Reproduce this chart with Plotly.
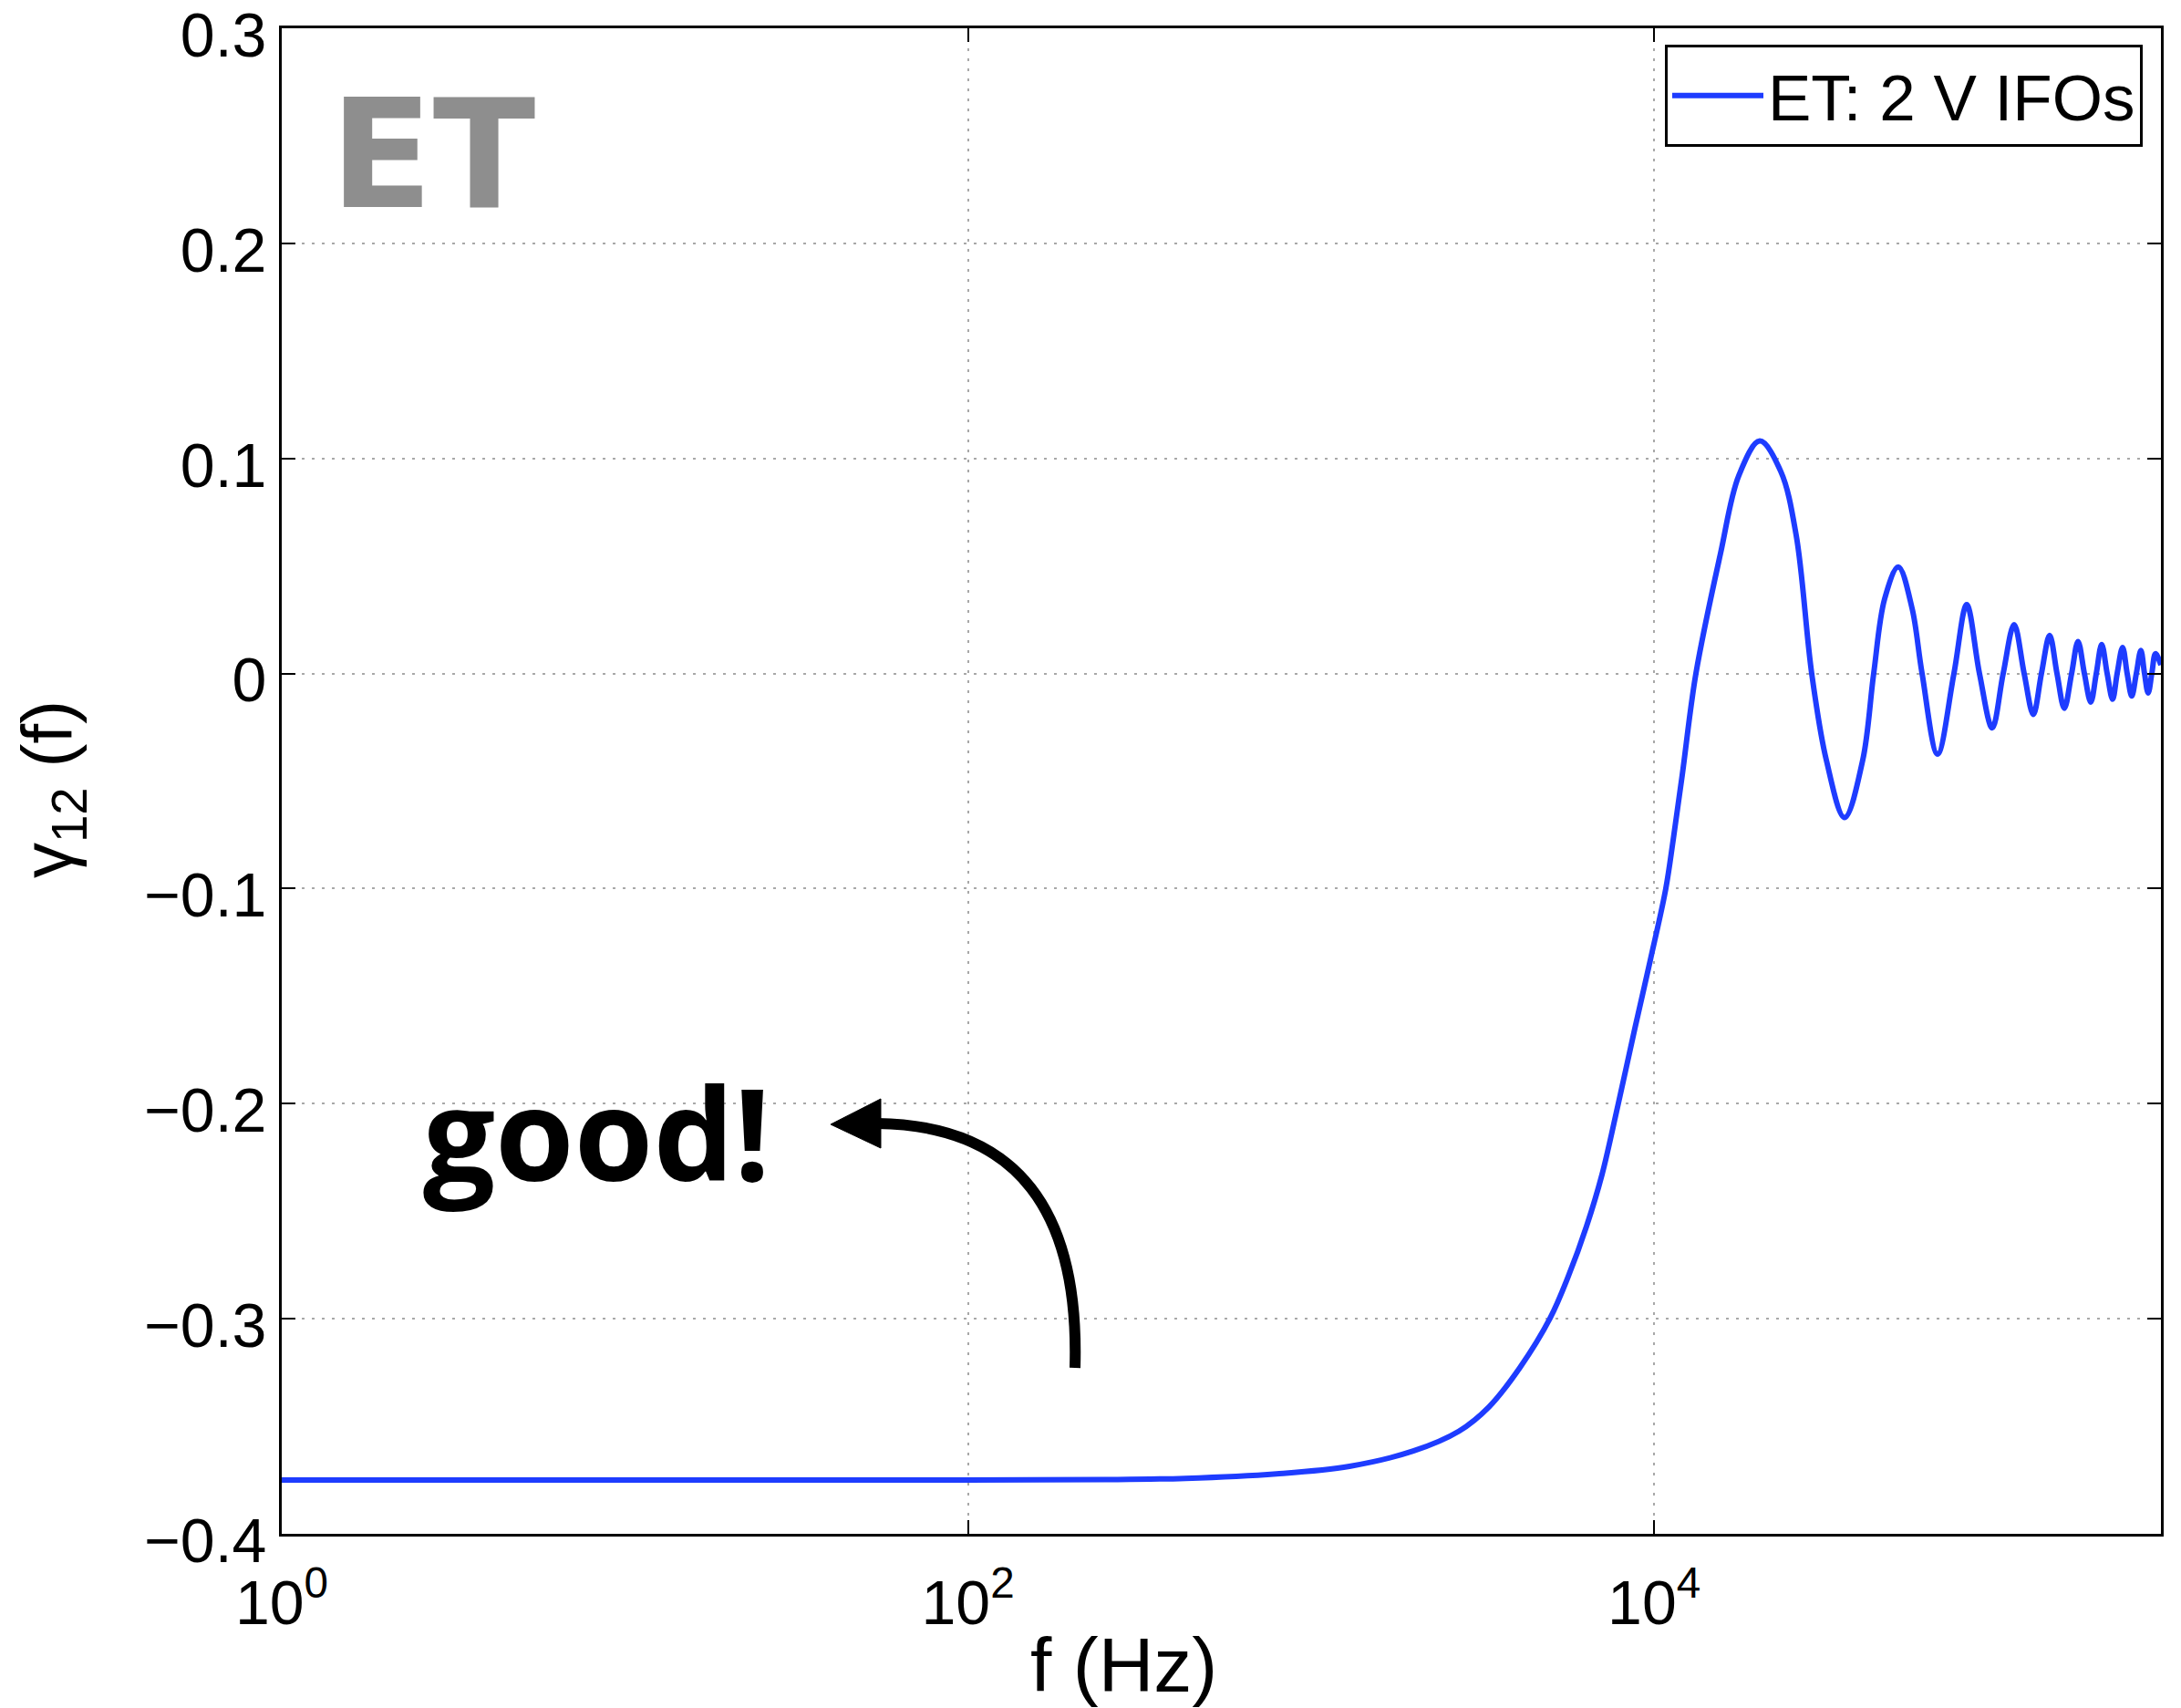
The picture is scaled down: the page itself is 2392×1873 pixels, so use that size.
import plotly.graph_objects as go

# ---------------- data ----------------
freq_hz = [1, 10, 100, 251, 430, 793, 1294, 1986, 2697, 3300, 4062, 4972, 5620,
           6352, 7047, 7866, 8786, 9745, 10814, 11360, 12075, 13237, 15612, 17647,
           20312, 23385, 25942, 28789, 31755, 35886, 40552, 43640, 46963, 51487,
           56442, 60378, 66986, 74778, 81470, 88760, 96690, 104060, 111990, 119790,
           127350, 134530, 142130, 149340, 156830, 164720, 171940, 179480, 187330,
           194360, 201550, 209090, 216860, 223600, 231930, 239130, 246590, 254280,
           262190, 268690, 275330, 282160, 289140, 300000]
gamma_12 = [-0.375, -0.375, -0.375, -0.3748, -0.3742, -0.3721, -0.3686, -0.3615,
            -0.3523, -0.3410, -0.3227, -0.2998, -0.2803, -0.2570, -0.2330, -0.1998,
            -0.1650, -0.1333, -0.1000, -0.0775, -0.0472, 0.0, 0.0558, 0.0920, 0.1081,
            0.0940, 0.0643, 0.0, -0.0402, -0.0670, -0.0402, 0.0, 0.0347, 0.0495,
            0.0304, 0.0, -0.0375, 0.0, 0.0320, 0.0, -0.0253, 0.0, 0.0227, 0.0,
            -0.0190, 0.0, 0.0177, 0.0, -0.0162, 0.0, 0.0149, 0.0, -0.0133, 0.0,
            0.0135, 0.0, -0.0120, 0.0, 0.0121, 0.0, -0.0105, 0.0, 0.0107, 0.0,
            -0.0091, 0.0, 0.0092, 0.004]

series_name = "ET: 2 V IFOs"
x_tick_vals = [1, 100, 10000]
x_tick_text = ["10<sup>0</sup>", "10<sup>2</sup>", "10<sup>4</sup>"]
y_tick_vals = [-0.4, -0.3, -0.2, -0.1, 0.0, 0.1, 0.2, 0.3]
y_tick_text = ["\u22120.4", "\u22120.3", "\u22120.2", "\u22120.1", "0", "0.1", "0.2", "0.3"]
x_title = "f (Hz)"
y_title = "\u03b3<sub>12</sub> (f)"
label_et = "ET"
label_good = "good!"

# ---------------- layout geometry (pixels) ----------------
W, H = 2392, 1873
L, R, T, B = 309, 2370, 31, 1682


def px(x):
    return (x - L) / (R - L)


def py(y):
    return (B - y) / (B - T)


AX_FONT = "Liberation Sans, Arial, Helvetica, sans-serif"
DECO_FONT = "Open Sans, Noto Sans, sans-serif"

fig = go.Figure()
fig.add_trace(go.Scatter(
    x=freq_hz, y=gamma_12, mode="lines", name=series_name,
    line=dict(color="rgb(30,60,255)", width=6, shape="spline", smoothing=1.0),
    showlegend=True,
))

axis_common = dict(
    showline=True, linecolor="black", linewidth=3, mirror="ticks",
    ticks="inside", ticklen=15, tickwidth=2, tickcolor="black",
    showgrid=True, gridcolor="#a8a8a8", gridwidth=2, griddash="3px,8px",
    zeroline=False, ticklabeloverflow="allow", automargin=False,
    tickfont=dict(family=AX_FONT, size=68, color="black"),
)

fig.update_xaxes(type="log", range=[0, 5.4771], tickvals=x_tick_vals,
                 ticktext=x_tick_text, ticklabelstandoff=14, **axis_common)
fig.update_yaxes(range=[-0.4, 0.3], tickvals=y_tick_vals, ticktext=y_tick_text,
                 ticklabelstandoff=0, ticklabelshift=7, **axis_common)

annotations = [
    dict(text=x_title, x=px(1232), y=py(1826), xref="paper", yref="paper",
         xanchor="center", yanchor="middle", showarrow=False,
         font=dict(family=AX_FONT, size=84, color="black")),
    dict(text=y_title, x=px(57), y=py(866), xref="paper", yref="paper",
         xanchor="center", yanchor="middle", showarrow=False, textangle=-90,
         font=dict(family=AX_FONT, size=78, color="black")),
    dict(text="<b>%s</b>" % label_et, x=px(360), y=py(170), xref="paper", yref="paper",
         xanchor="left", yanchor="middle", showarrow=False,
         font=dict(family="DejaVu Sans, sans-serif", size=165, color="#8e8e8e")),
    dict(text="<b>%s</b>" % label_good, x=px(654), y=py(1240), xref="paper", yref="paper",
         xanchor="center", yanchor="middle", showarrow=False,
         font=dict(family=DECO_FONT, size=140, color="black")),
]

# curved arrow (shaft + head), paper coordinates
p0 = (1179, 1500)
c1 = (1184, 1330)
c2 = (1118, 1234)
p3 = (962, 1232)
shaft = "M %f %f C %f %f, %f %f, %f %f" % (px(p0[0]), py(p0[1]), px(c1[0]), py(c1[1]),
                                          px(c2[0]), py(c2[1]), px(p3[0]), py(p3[1]))
head = "M %f %f L %f %f L %f %f Z" % (px(911), py(1233), px(966), py(1205), px(966), py(1259))
shapes = [
    dict(type="path", path=shaft, xref="paper", yref="paper",
         line=dict(color="black", width=12), fillcolor="rgba(0,0,0,0)"),
    dict(type="path", path=head, xref="paper", yref="paper",
         line=dict(color="black", width=1), fillcolor="black"),
]

fig.update_layout(
    width=W, height=H,
    margin=dict(l=L, r=W - R, t=T, b=H - B, pad=0, autoexpand=False),
    paper_bgcolor="white", plot_bgcolor="white",
    annotations=annotations, shapes=shapes,
    legend=dict(x=px(2350), y=py(49), xanchor="right", yanchor="top",
                bgcolor="white", bordercolor="black", borderwidth=3,
                font=dict(family=AX_FONT, size=71, color="black"),
                itemwidth=100),
    showlegend=True,
)

fig.write_html("out.html")
